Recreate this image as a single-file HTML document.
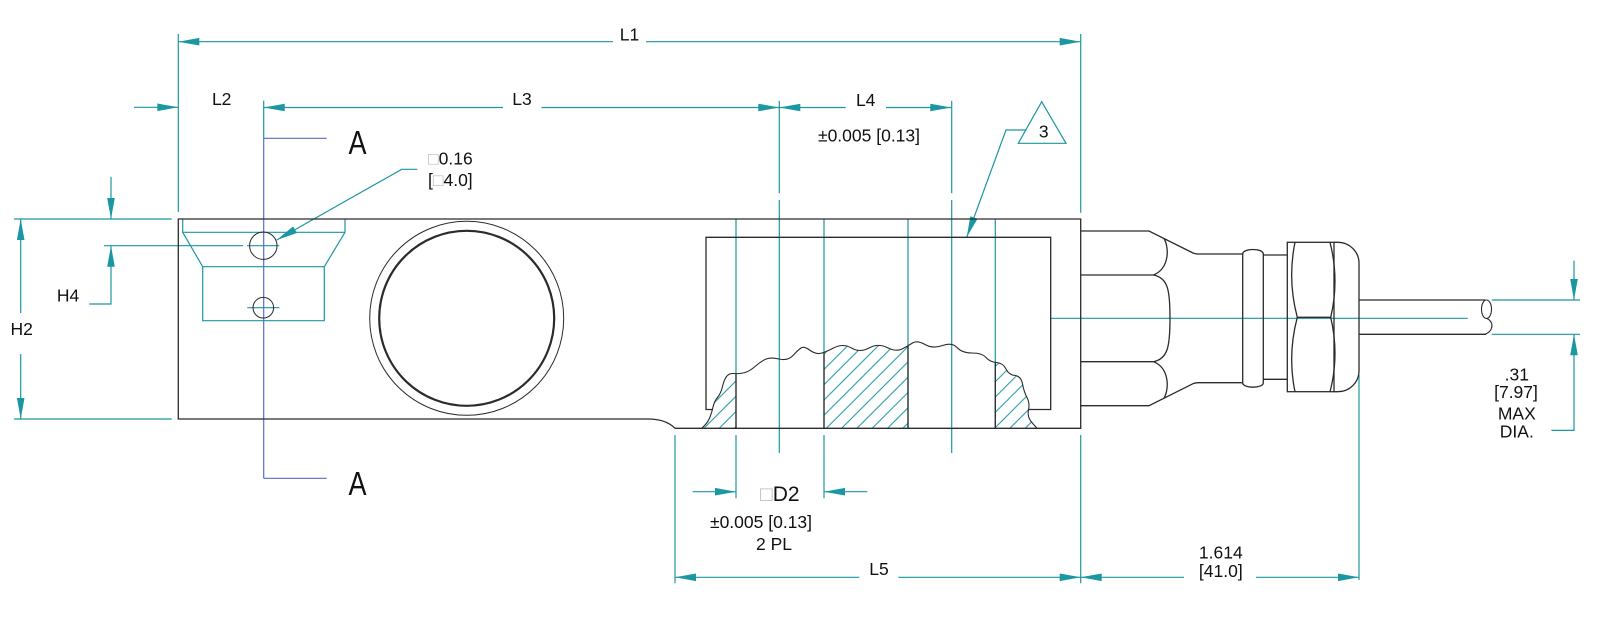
<!DOCTYPE html>
<html><head><meta charset="utf-8"><style>html,body{margin:0;padding:0;background:#fff;}svg{display:block}</style></head>
<body>
<svg width="1600" height="617" viewBox="0 0 1600 617" xmlns="http://www.w3.org/2000/svg" font-family="'Liberation Sans', Arial, sans-serif">
<defs>
  <pattern id="hatch" patternUnits="userSpaceOnUse" width="15.3" height="15.3" x="0" y="0">
    <path d="M0,15.3 L15.3,0 M-3,3 L3,-3 M12.3,18.3 L18.3,12.3" stroke="#1b97a1" stroke-width="1"/>
  </pattern>
  <clipPath id="below">
    <path d="M701.7,428.3 L704.85,425.15 Q708,422 710,417 Q712,412 713,407 Q714,402 717.5,397.5 Q721,393 722.5,386.5 Q724,380 726.5,376.5 Q729,373 734.5,373.5 Q740,374 745,372.5 Q750,371 755,366.5 Q760,362 765,359.5 Q770,357 779,359 Q788,361 793,355.5 Q798,350 801,348 Q804,346 809.5,350 Q815,354 819.5,353.5 Q824,353 833.5,348 Q843,343 851.5,348 Q860,353 869,348 Q878,343 887,347.5 Q896,352 902,349 Q908,346 912.5,343 Q917,340 925,344.5 Q933,349 942.5,345.5 Q952,342 957,347.5 Q962,353 972,353 Q982,353 986,357.5 Q990,362 996.5,362.5 Q1003,363 1006,369 Q1009,375 1015,375.5 Q1021,376 1022.5,384 Q1024,392 1027,397.5 Q1030,403 1028.5,410 Q1027,417 1032,422.65 L1037,428.3 L1040,440 L698,440 Z"/>
  </clipPath>
</defs>

<!-- hatching -->
<g clip-path="url(#below)">
  <rect x="690" y="330" width="46" height="98.3" fill="url(#hatch)"/>
  <rect x="824" y="330" width="84" height="98.3" fill="url(#hatch)"/>
  <rect x="995.3" y="330" width="45" height="98.3" fill="url(#hatch)"/>
</g>

<!-- teal dimension / center lines -->
<g stroke="#1b97a1" stroke-width="1.2" fill="none">
  <path d="M178.3,34 V212 M1080.7,34 V212.7"/>
  <path d="M178.3,41.7 H613 M646,41.7 H1080.7"/>
  <path d="M134,107.3 H178.3"/>
  <path d="M263.7,107.5 H503 M541.5,107.5 H779.3"/>
  <path d="M779.3,107.5 H845.7 M886,107.5 H951.3"/>
  <path d="M263.7,100.7 V138.3"/>
  <path d="M779.3,100.7 V193.3 M779.3,200 V453 M951.7,100.7 V193.3 M951.7,200 V453"/>
  <path d="M736,219 V428.3 M824,219 V428.3 M908,219 V428.3 M995.3,219 V428.3"/>
  <path d="M736,435 V498.3 M824,435 V498.3"/>
  <path d="M692.7,491.7 H736 M824,491.7 H867.3"/>
  <path d="M675,435 V583.3 M1080.7,435 V583.3 M1359,375 V580"/>
  <path d="M675,577.3 H859.3 M898.3,577.3 H1080.7"/>
  <path d="M1080.7,577.3 H1184 M1256,577.3 H1359"/>
  <path d="M14,219 H171.7 M14,419 H171.7 M20.7,219 V313 M20.7,354 V419"/>
  <path d="M111,176.7 V219 M111,245.7 V304 H89.3"/>
  <path d="M104,245.7 H243 M247,245.7 H279.3 M247.3,307.7 H279.3"/>
  <path d="M182.7,219 V232.3 H345 V219 M182.7,232.3 L202.7,266.7 M345,232.3 L324.3,266.7 M202.7,266.7 H324.3 V320.7 H202.7 Z"/>
  <path d="M276.7,240 L401.7,169.3 H417.3"/>
  <path d="M966.7,237.3 L1006,130 H1025.8"/>
  <path d="M1041.7,101.7 L1066,143.3 H1018.3 Z"/>
  <path d="M1050.7,318.3 H1467.7"/>
  <path d="M1491.7,300 H1580 M1491.7,334.3 H1580 M1574,260.7 V300 M1574,334.3 V430.4 H1551.4"/>
</g>

<!-- arrowheads -->
<g fill="#1b97a1" stroke="none">
  <polygon points="178.3,41.7 199.3,37.9 199.3,45.5"/>
  <polygon points="1080.7,41.7 1059.7,37.9 1059.7,45.5"/>
  <polygon points="178.3,107.3 157.3,103.5 157.3,111.1"/>
  <polygon points="263.7,107.5 284.7,103.7 284.7,111.3"/>
  <polygon points="779.3,107.5 758.3,103.7 758.3,111.3"/>
  <polygon points="779.3,107.5 800.3,103.7 800.3,111.3"/>
  <polygon points="951.3,107.5 930.3,103.7 930.3,111.3"/>
  <polygon points="736,491.7 715,487.9 715,495.5"/>
  <polygon points="824,491.7 845,487.9 845,495.5"/>
  <polygon points="675,577.3 696,573.5 696,581.1"/>
  <polygon points="1080.7,577.3 1059.7,573.5 1059.7,581.1"/>
  <polygon points="1080.7,577.3 1101.7,573.5 1101.7,581.1"/>
  <polygon points="1359,577.3 1338,573.5 1338,581.1"/>
  <polygon points="111,219 107.2,198 114.8,198"/>
  <polygon points="111,245.7 107.2,266.7 114.8,266.7"/>
  <polygon points="20.7,219 16.9,240 24.5,240"/>
  <polygon points="20.7,419 16.9,398 24.5,398"/>
  <polygon points="1574,300 1570.2,279 1577.8,279"/>
  <polygon points="1574,334.3 1570.2,355.3 1577.8,355.3"/>
  <polygon points="276.7,240 296.9,233 293.1,226.4"/>
  <polygon points="966.7,237.3 977.5,218.9 970.3,216.3"/>
</g>

<!-- blue section line -->
<g stroke="#5a6cc6" stroke-width="1.2" fill="none">
  <path d="M263.7,138.3 V478.3 M263.7,138.3 H326.7 M263.7,478.3 H326.7"/>
</g>

<!-- part outlines -->
<g stroke="#2b2b2b" stroke-width="1.3" fill="none">
  <path d="M178.3,219 H1080.7 V428.3 H675 Q666,419 648,419 H178.3 Z"/>
  <circle cx="263.3" cy="245.7" r="13.7" stroke-width="1"/>
  <circle cx="263.3" cy="307.7" r="10.3" stroke-width="1"/>
  <circle cx="466.7" cy="318.3" r="97" stroke-width="1"/>
  <circle cx="466.7" cy="318.3" r="87.5" stroke-width="2.2"/>
  <path d="M713,409.5 H706 V237.3 H1050.7 V409.5 H1029"/>
  <path d="M701.7,428.3 L704.85,425.15 Q708,422 710,417 Q712,412 713,407 Q714,402 717.5,397.5 Q721,393 722.5,386.5 Q724,380 726.5,376.5 Q729,373 734.5,373.5 Q740,374 745,372.5 Q750,371 755,366.5 Q760,362 765,359.5 Q770,357 779,359 Q788,361 793,355.5 Q798,350 801,348 Q804,346 809.5,350 Q815,354 819.5,353.5 Q824,353 833.5,348 Q843,343 851.5,348 Q860,353 869,348 Q878,343 887,347.5 Q896,352 902,349 Q908,346 912.5,343 Q917,340 925,344.5 Q933,349 942.5,345.5 Q952,342 957,347.5 Q962,353 972,353 Q982,353 986,357.5 Q990,362 996.5,362.5 Q1003,363 1006,369 Q1009,375 1015,375.5 Q1021,376 1022.5,384 Q1024,392 1027,397.5 Q1030,403 1028.5,410 Q1027,417 1032,422.65 L1037,428.3" stroke-width="1.1"/>
  <path d="M736,373.6 V428.3 M824,353.3 V428.3 M908,346 V428.3 M995.3,362.3 V428.3"/>
  <!-- connector -->
  <path d="M1080.7,231 H1149 L1193,253 Q1195.5,254 1198,254 H1242.7"/>
  <path d="M1080.7,405.7 H1149 L1193,383.7 Q1195.5,382.7 1198,382.7 H1242.7"/>
  <path d="M1080.7,275 H1153.6 M1080.7,361.7 H1153.6"/>
  <path d="M1164,238.5 C1169,247 1170,268 1153.6,275"/>
  <path d="M1153.6,275 C1168,278 1170,290 1170,318.3 C1170,346 1168,358.7 1153.6,361.7"/>
  <path d="M1153.6,361.7 C1170,368.6 1169,389.6 1164,398.2"/>
  <path d="M1242.7,254 C1242.7,248 1263.3,248 1263.3,254 V382.7 C1263.3,388.7 1242.7,388.7 1242.7,382.7 Z"/>
  <path d="M1263.3,255 H1287.3 M1263.3,379.3 H1287.3"/>
  <rect x="1287.3" y="242.3" width="46.7" height="149.4"/>
  <path d="M1334,242.3 H1338 A21,21 0 0 1 1359,263.3 V370.7 A21,21 0 0 1 1338,391.7 H1334"/>
  <path d="M1295,242.3 Q1287.3,280 1297.3,317.3 Q1287.3,355 1295,391.7"/>
  <path d="M1330,242.3 Q1339.6,280 1330.7,317.3 Q1339.6,355 1330,391.7"/>
  <path d="M1297.3,317.3 H1330.7"/>
  <path d="M1359,300 H1485 M1359,334.3 H1486"/>
  <ellipse cx="1486.5" cy="309.2" rx="5" ry="9.2" stroke-width="1.1"/>
  <path d="M1486.5,318.4 C1494,321 1494,331 1485,334.3" stroke-width="1.1"/>
</g>

<!-- text -->
<g fill="#111" font-size="17.5">
  <text x="629.5" y="40.7" text-anchor="middle">L1</text>
  <text x="221.7" y="105" text-anchor="middle">L2</text>
  <text x="522" y="105" text-anchor="middle">L3</text>
  <text x="865.7" y="106" text-anchor="middle">L4</text>
  <text x="869" y="141.7" text-anchor="middle">±0.005 [0.13]</text>
  <text x="472.7" y="164.3" text-anchor="end"><tspan fill="#b8b8b8">□</tspan>0.16</text>
  <text x="472.7" y="186" text-anchor="end">[<tspan fill="#b8b8b8">□</tspan>4.0]</text>
  <text x="1043.8" y="137.3" text-anchor="middle">3</text>
  <text x="68" y="301.7" text-anchor="middle">H4</text>
  <text x="21.7" y="335" text-anchor="middle">H2</text>
  <text x="760" y="501" font-size="21"><tspan fill="#b8b8b8">□</tspan>D2</text>
  <text x="761" y="528" text-anchor="middle">±0.005 [0.13]</text>
  <text x="774" y="550" text-anchor="middle">2 PL</text>
  <text x="879" y="575" text-anchor="middle">L5</text>
  <text x="1220.8" y="558.3" text-anchor="middle">1.614</text>
  <text x="1220.8" y="577" text-anchor="middle">[41.0]</text>
  <text x="1516.8" y="380.4" text-anchor="middle">.31</text>
  <text x="1516" y="398" text-anchor="middle">[7.97]</text>
  <text x="1516.8" y="419.6" text-anchor="middle">MAX</text>
  <text x="1516.8" y="437.5" text-anchor="middle">DIA.</text>
  <text transform="translate(357.5,154) scale(0.82,1)" text-anchor="middle" font-size="33">A</text>
  <text transform="translate(357.5,495) scale(0.82,1)" text-anchor="middle" font-size="33">A</text>
</g>
</svg>
</body></html>
